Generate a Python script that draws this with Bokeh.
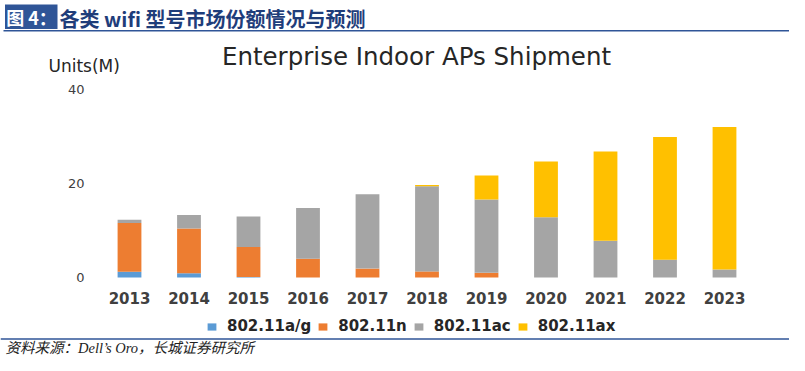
from bokeh.plotting import figure
from bokeh.models import (Range1d, Legend, LegendItem, ColumnDataSource)
from bokeh.core.properties import value
from bokeh.embed import file_html
from bokeh.resources import INLINE

# ---- data ----
years = [2013, 2014, 2015, 2016, 2017, 2018, 2019, 2020, 2021, 2022, 2023]
year_labels = [str(y) for y in years]
ag = [1.2, 0.9, 0.1, 0, 0, 0, 0, 0, 0, 0, 0]
n = [10.4, 9.5, 6.4, 4.0, 1.9, 1.3, 1.0, 0, 0, 0, 0]
ac = [0.7, 2.9, 6.5, 10.8, 15.8, 18.1, 15.6, 12.8, 7.8, 3.8, 1.7]
ax = [0, 0, 0, 0, 0, 0.3, 5.1, 11.9, 19.0, 26.1, 30.3]
series = ["802.11a/g", "802.11n", "802.11ac", "802.11ax"]
colors = ["#5B9BD5", "#ED7D31", "#A5A5A5", "#FFC000"]
y_ticks = [0, 20, 40]
y_tick_labels = ["0", "20", "40"]
chart_title = "Enterprise Indoor APs Shipment"
unit_label = "Units(M)"
fig_tag = "图 4："
fig_title = "各类 wifi 型号市场份额情况与预测"
source_note = "资料来源：Dell’s Oro，长城证券研究所"

# ---- layout constants (pixels) ----
W, H = 789, 355
X0_PX, X_STEP = 129.0, 59.5      # canvas x of first category, px per year
Y0_PX, Y_UNIT = 277.0, 4.7       # canvas y of value 0, px per unit

xr = Range1d(years[0] - X0_PX / X_STEP, years[0] + (W - X0_PX) / X_STEP)
yr = Range1d(-(H - Y0_PX) / Y_UNIT, Y0_PX / Y_UNIT)

p = figure(width=W, height=H, output_backend="svg", toolbar_location=None,
           x_range=xr, y_range=yr, x_axis_location=None, y_axis_location=None,
           min_border=0)
p.outline_line_color = None
p.xgrid.visible = False
p.ygrid.visible = False
p.background_fill_color = "white"
p.border_fill_color = "white"
p.extra_x_ranges = {"px": Range1d(0, W)}
p.extra_y_ranges = {"px": Range1d(H, 0)}

src = ColumnDataSource(dict(x=years, ag=ag, n=n, ac=ac, ax=ax))
rs = p.vbar_stack(["ag", "n", "ac", "ax"], x="x", width=0.4, source=src,
                  color=colors, line_color=None)

# x tick labels (category axis)
p.text(x=years, y=[0] * len(years), text=year_labels, y_offset=14,
       text_align="center", text_baseline="top", text_font=value("DejaVu Sans"),
       text_font_style="bold", text_font_size="15px", text_color="#404040")
# y tick labels (value axis)
p.text(x=[84] * len(y_ticks), y=y_ticks, text=y_tick_labels, x_range_name="px",
       text_align="right", text_baseline="middle", text_font=value("DejaVu Sans"),
       text_font_size="13px", text_color="#404040")

# legend
legend = Legend(items=[LegendItem(label=s, renderers=[r]) for s, r in zip(series, rs)],
                orientation="horizontal", location=(206, H - 327 - 8),
                glyph_width=11, glyph_height=9, label_standoff=10, spacing=6,
                label_text_font="DejaVu Sans", label_text_font_style="bold",
                label_text_font_size="15px", label_text_color="#262626",
                label_height=16, padding=0, margin=0,
                border_line_color=None, background_fill_alpha=0)
p.add_layout(legend, "center")

# chart title and unit
p.text(x=[416], y=[56], text=[chart_title], x_range_name="px", y_range_name="px",
       text_align="center", text_baseline="middle", text_font=value("DejaVu Sans"),
       text_font_size="24.5px", text_color="#262626")
p.text(x=[48], y=[65], text=[unit_label], x_range_name="px", y_range_name="px",
       text_align="left", text_baseline="middle", text_font=value("DejaVu Sans"),
       text_font_size="17px", text_color="#262626")

# header
blue = "#2F5597"
p.quad(left=[4.5], right=[57], top=[4], bottom=[28.5], x_range_name="px", y_range_name="px",
       fill_color=blue, line_color=None)
p.line(x=[3, W], y=[30.2, 30.2], x_range_name="px", y_range_name="px",
       line_color=blue, line_width=1.5)
p.text(x=[31], y=[16.5], text=[fig_tag], x_range_name="px", y_range_name="px",
       text_align="center", text_baseline="middle", text_font=value("Noto Sans CJK SC"),
       text_font_style="bold", text_font_size="18px", text_color="white")
p.text(x=[59], y=[17.5], text=[fig_title], x_range_name="px", y_range_name="px",
       text_align="left", text_baseline="middle", text_font=value("Noto Sans CJK SC"),
       text_font_style="bold", text_font_size="20px", text_color="#1F3D7A")

# footer
p.line(x=[0, W], y=[338.5, 338.5], x_range_name="px", y_range_name="px",
       line_color=blue, line_width=1.5)
p.text(x=[5], y=[347.5], text=[source_note], x_range_name="px", y_range_name="px",
       text_align="left", text_baseline="middle",
       text_font=value("'Liberation Serif', 'Noto Sans CJK SC'"), text_font_style="italic",
       text_font_size="14.5px", text_color="#222222")

open("out.html", "w").write(file_html(p, INLINE))
